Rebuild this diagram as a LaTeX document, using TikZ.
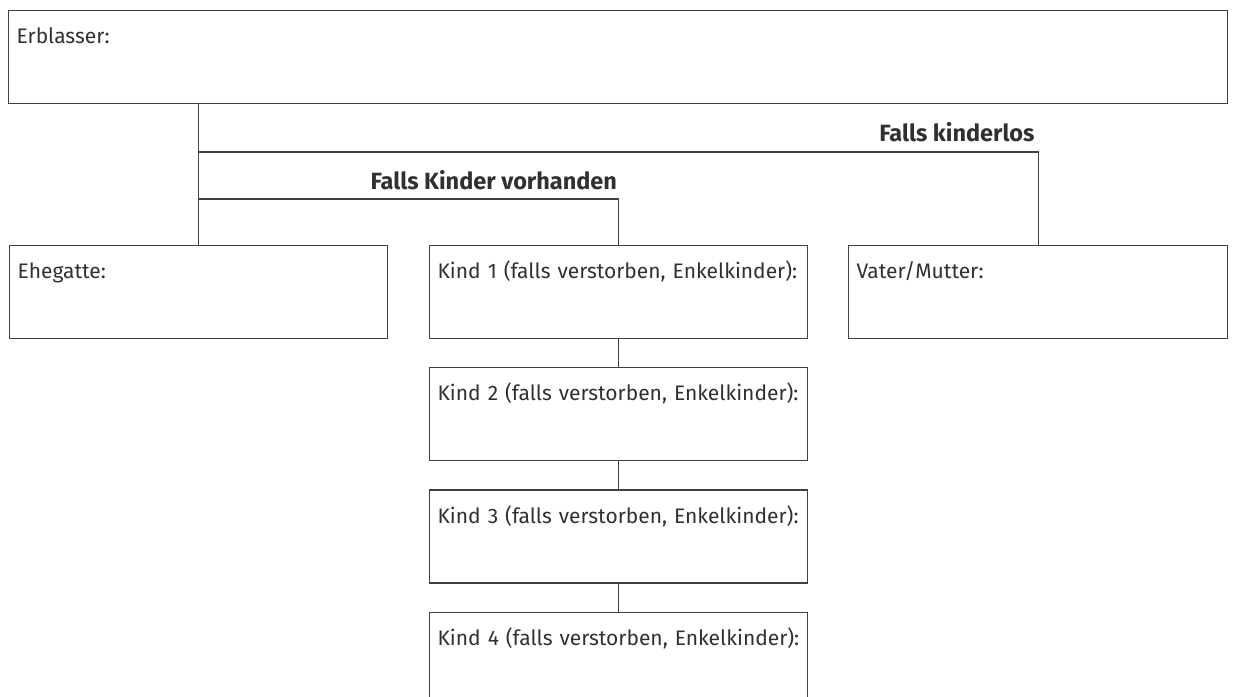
\documentclass[tikz,border=0pt]{standalone}
\usepackage{fontspec}
\setmainfont{Fira Sans}
\usetikzlibrary{positioning}
\definecolor{linegray}{HTML}{404040}
\definecolor{textgray}{HTML}{303030}
\begin{document}
\begin{tikzpicture}[x=1pt,y=-1pt,
	line width=1.2pt,draw=linegray,
	formbox/.style={rectangle,draw=linegray,anchor=north west,inner xsep=8pt,inner ysep=0pt,
		text height=33pt,text depth=60pt,align=left,text=textgray,font=\fontsize{21}{25}\selectfont},
	casetext/.style={anchor=base east,text=textgray,font=\fontsize{23.5}{28}\selectfont\bfseries,inner sep=0pt}]
				\useasboundingbox (0,0) rectangle (1233,696);
				\clip (0,0) rectangle (1233,696);
				
				\node[formbox,text width=1203pt] (erblasser) at (8,10) {Erblasser:};
				\node[formbox,text width=362pt] (ehegatte) at (9,245) {Ehegatte:};
				\node[formbox,text width=362pt] (kind1) at (429,245) {Kind 1 (falls verstorben, Enkelkinder):};
				\node[formbox,text width=363pt] (vater) at (848,245) {Vater/Mutter:};
				\begin{scope}[node distance=28pt]
					\node[formbox,text width=362pt,below=of kind1] (kind2) {Kind 2 (falls verstorben, Enkelkinder):};
					\node[formbox,text width=362pt,below=of kind2] (kind3) {Kind 3 (falls verstorben, Enkelkinder):};
					\node[formbox,text width=362pt,below=of kind3] (kind4) {Kind 4 (falls verstorben, Enkelkinder):};
				\end{scope}
				
				\coordinate (ohnekinder) at (199,152);
				\coordinate (mitkindern) at (199,199);
				\draw (ehegatte.north |- erblasser.south) -- (ehegatte.north);
				\draw (ohnekinder) -| (vater.north);
				\draw (mitkindern) -| (kind1.north);
				\draw (kind1) -- (kind2);
				\draw (kind2) -- (kind3);
				\draw (kind3) -- (kind4);
				
				\node[casetext] (kinderlos) at ([xshift=-3pt]vater.north |- 0,141) {Falls kinderlos};
				\node[casetext] (vorhanden) at ([xshift=-1pt]kind1.north |- 0,189) {Falls Kinder vorhanden};
			\end{tikzpicture}
\end{document}
